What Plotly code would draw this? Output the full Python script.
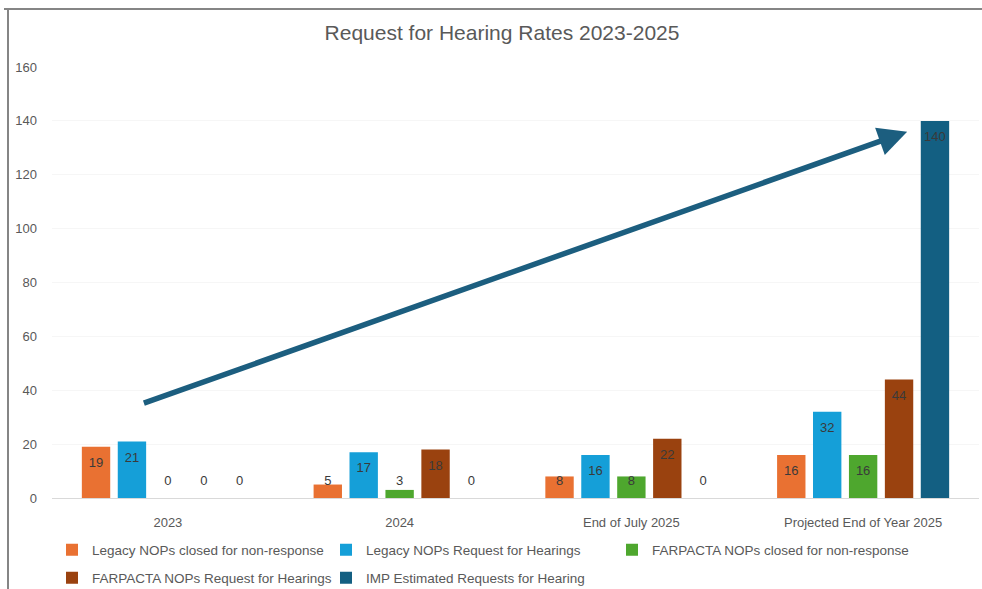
import plotly.graph_objects as go

# ---- data ----
categories = ["2023", "2024", "End of July 2025", "Projected End of Year 2025"]
legacy_closed = [19, 5, 8, 16]
legacy_request = [21, 17, 16, 32]
farpacta_closed = [0, 3, 8, 16]
farpacta_request = [0, 18, 22, 44]
imp_estimated = [0, 0, 0, 140]

series_names = [
    "Legacy NOPs closed for non-response",
    "Legacy NOPs Request for Hearings",
    "FARPACTA NOPs closed for non-response",
    "FARPACTA NOPs Request for Hearings",
    "IMP Estimated Requests for Hearing",
]
series_values = [legacy_closed, legacy_request, farpacta_closed, farpacta_request, imp_estimated]
series_colors = ["#E97132", "#159FD8", "#4EA72E", "#9A420F", "#135F82"]
# legend placement: two columns on the first row plus a wide third column, two on the second row
series_legend = ["legend", "legend", "legend3", "legend2", "legend2"]

y_ticks = [0, 20, 40, 60, 80, 100, 120, 140, 160]

# trend arrow endpoints (category index, value)
arrow_start = (-0.11, 35)
arrow_end = (3.19, 136)

# ---- layout geometry ----
W, H = 982, 589
ML, MR, MT, MB = 52, 3, 67, 91
PW, PH = W - ML - MR, H - MT - MB
BARGAP = 0.225

TEXT_FONT = "Liberation Sans, Arial, sans-serif"


def px_to_paper_x(px):
    return (px - ML) / PW


def px_to_paper_y(py):
    return (H - MB - py) / PH


fig = go.Figure()

for i, (name, vals, col, lg) in enumerate(zip(series_names, series_values, series_colors, series_legend)):
    fig.add_trace(go.Bar(
        x=categories, y=vals, name=name,
        marker=dict(color=col, line=dict(width=0)),
        offsetgroup=str(i), legend=lg,
    ))

# value labels: inside the top of each bar, kept just above the baseline for short bars
for i, vals in enumerate(series_values):
    label_y = [max(v - 6.3, 6.0) for v in vals]
    fig.add_trace(go.Scatter(
        x=categories, y=label_y, mode="text",
        text=[str(v) for v in vals],
        textposition="middle center",
        textfont=dict(family=TEXT_FONT, size=13, color="#3a3a3a"),
        offsetgroup=str(i), showlegend=False, hoverinfo="skip", cliponaxis=False,
    ))

# trend arrow
fig.add_annotation(
    x=arrow_end[0], y=arrow_end[1], xref="x", yref="y",
    ax=arrow_start[0], ay=arrow_start[1], axref="x", ayref="y",
    showarrow=True, arrowhead=2, arrowsize=1.05, arrowwidth=5.5,
    arrowcolor="#1C5E7F", text="",
)

# outer frame lines (top and left)
fig.add_shape(type="line", xref="paper", yref="paper",
              x0=px_to_paper_x(4), x1=px_to_paper_x(982),
              y0=px_to_paper_y(9), y1=px_to_paper_y(9),
              line=dict(color="#858585", width=2))
fig.add_shape(type="line", xref="paper", yref="paper",
              x0=px_to_paper_x(8), x1=px_to_paper_x(8),
              y0=px_to_paper_y(9), y1=px_to_paper_y(589),
              line=dict(color="#858585", width=2))

legend_common = dict(
    orientation="h", xanchor="left", yanchor="middle",
    entrywidthmode="pixels", itemwidth=30, bgcolor="rgba(0,0,0,0)",
    font=dict(family=TEXT_FONT, size=13.5, color="#595959"),
)

fig.update_layout(
    width=W, height=H,
    margin=dict(l=ML, r=MR, t=MT, b=MB, pad=0, autoexpand=False),
    paper_bgcolor="white", plot_bgcolor="white",
    barmode="group", bargap=BARGAP, bargroupgap=0.21,
    scattermode="group", scattergap=BARGAP,
    title=dict(text="Request for Hearing Rates 2023-2025",
               x=px_to_paper_x(502), xref="paper", xanchor="center",
               y=1 - 33 / H, yref="container", yanchor="middle",
               font=dict(family=TEXT_FONT, size=21, color="#595959")),
    xaxis=dict(type="category", showgrid=False, showline=True,
               linecolor="#D9D9D9", linewidth=1, ticks="",
               ticklabelstandoff=12,
               tickfont=dict(family=TEXT_FONT, size=13, color="#595959")),
    yaxis=dict(range=[0, 160], tickvals=y_ticks, showgrid=True,
               gridcolor="#F6F6F6", zeroline=False, showline=False,
               ticks="", ticklabelstandoff=14,
               tickfont=dict(family=TEXT_FONT, size=13, color="#595959")),
    legend=dict(x=px_to_paper_x(52), y=px_to_paper_y(550), entrywidth=229, **legend_common),
    legend2=dict(x=px_to_paper_x(52), y=px_to_paper_y(578), entrywidth=229, **legend_common),
    legend3=dict(x=px_to_paper_x(612), y=px_to_paper_y(550), entrywidth=300, **legend_common),
    showlegend=True,
)

fig.write_html("out.html")
